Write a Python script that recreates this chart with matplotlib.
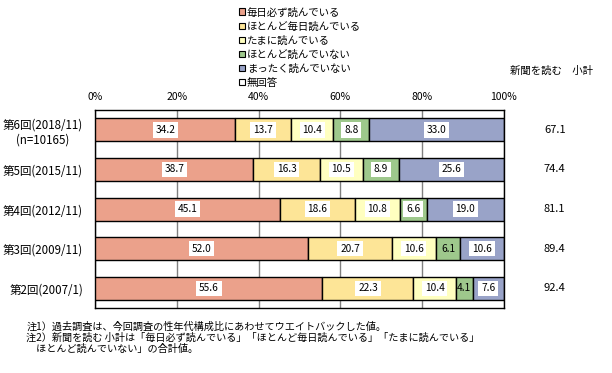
import matplotlib
matplotlib.use("Agg")
from matplotlib import pyplot as plt
from matplotlib.patches import Patch
import numpy as np

plt.rcParams['font.family'] = ['Noto Sans CJK JP', 'DejaVu Sans']

rounds = ["第6回(2018/11)\n(n=10165)", "第5回(2015/11)", "第4回(2012/11)",
          "第3回(2009/11)", "第2回(2007/1)"]
series_names = ["毎日必ず読んでいる", "ほとんど毎日読んでいる", "たまに読んでいる",
                "ほとんど読んでいない", "まったく読んでいない", "無回答"]
every_day = [34.2, 38.7, 45.1, 52.0, 55.6]
almost_every_day = [13.7, 16.3, 18.6, 20.7, 22.3]
sometimes = [10.4, 10.5, 10.8, 10.6, 10.4]
rarely = [8.8, 8.9, 6.6, 6.1, 4.1]
never = [33.0, 25.6, 19.0, 10.6, 7.6]
no_answer = [0.0, 0.0, 0.0, 0.0, 0.0]
subtotal = [67.1, 74.4, 81.1, 89.4, 92.4]

colors = ["#EBA18B", "#FDE597", "#FFFFC0", "#9EC88C", "#99A3C8", "#FFFFFF"]
series = [every_day, almost_every_day, sometimes, rarely, never, no_answer]

fig = plt.figure(figsize=(6.12, 3.73), dpi=100)
ax = fig.add_axes([0.156, 0.174, 0.667, 0.531])

y = np.arange(len(rounds))
left = np.zeros(len(rounds))
for vals, col in zip(series, colors):
    vals = np.array(vals)
    ax.barh(y, vals, left=left, height=0.58, color=col, edgecolor="black",
            linewidth=1, zorder=3)
    for yi, (l, v) in enumerate(zip(left, vals)):
        if v <= 0:
            continue
        box = dict(facecolor="white", edgecolor="none", pad=2) if v >= 6.5 else None
        ax.text(l + v / 2, yi, "%.1f" % v, ha="center", va="center", fontsize=7.3,
                bbox=box, zorder=4)
    left = left + vals

ax.set_xlim(0, 100)
ax.set_ylim(len(rounds) - 0.5, -0.5)
ax.set_xticks([0, 20, 40, 60, 80, 100])
ax.set_xticklabels(["0%", "20%", "40%", "60%", "80%", "100%"])
ax.xaxis.tick_top()
ax.tick_params(axis="x", length=0, labelsize=7.5, pad=6)
ax.set_yticks(y)
ax.set_yticklabels(rounds, fontsize=8.3, multialignment="center")
ax.tick_params(axis="y", length=0, pad=9)
ax.grid(axis="x", color="#808080", linewidth=1, zorder=0)
for sp in ax.spines.values():
    sp.set_linewidth(1)
    sp.set_color("black")

for yi, s in enumerate(subtotal):
    ax.text(112.5, yi, "%.1f" % s, ha="center", va="center", fontsize=8)
fig.text(0.833, 0.81, "新聞を読む　小計", fontsize=7.5, va="center")

handles = [Patch(facecolor=c, edgecolor="black", linewidth=0.8) for c in colors]
fig.legend(handles, series_names, loc="upper left", bbox_to_anchor=(0.378, 1.0),
           frameon=False, fontsize=7.5, handlelength=0.6, handleheight=0.6,
           handletextpad=0.2, labelspacing=0.38, borderaxespad=0.3)

notes = ("注1）過去調査は、今回調査の性年代構成比にあわせてウエイトバックした値。\n"
         "注2）新聞を読む 小計は「毎日必ず読んでいる」「ほとんど毎日読んでいる」「たまに読んでいる」\n"
         "　ほとんど読んでいない」の合計値。")
fig.text(0.043, 0.095, notes, fontsize=7.3, va="center", linespacing=1.15)

fig.savefig("out.png", dpi=100)
